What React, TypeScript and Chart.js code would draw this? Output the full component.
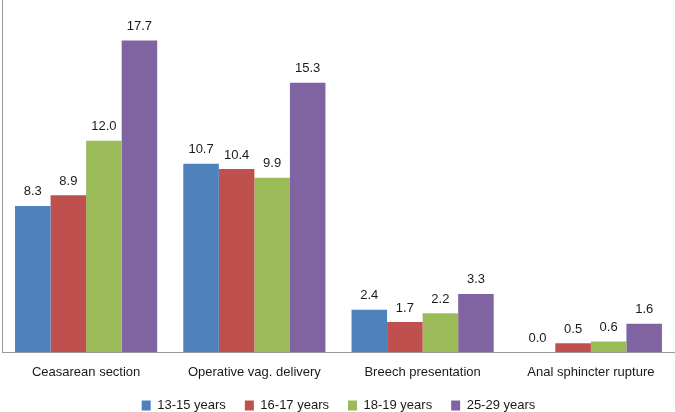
import React, { useEffect, useRef } from "react";
import { Chart, registerables } from "chart.js";

Chart.register(...registerables);

const categories = [
  "Ceasarean section",
  "Operative vag. delivery",
  "Breech presentation",
  "Anal sphincter rupture",
];
const seriesNames = ["13-15 years", "16-17 years", "18-19 years", "25-29 years"];
const age1315 = [8.3, 10.7, 2.4, 0.0];
const age1617 = [8.9, 10.4, 1.7, 0.5];
const age1819 = [12.0, 9.9, 2.2, 0.6];
const age2529 = [17.7, 15.3, 3.3, 1.6];
const colors = ["#4F81BD", "#C0504D", "#9BBB59", "#8064A2"];

const FONT = "'Liberation Sans', Arial, sans-serif";

const valueLabels = {
  id: "valueLabels",
  afterDatasetsDraw(chart: any) {
    const ctx = chart.ctx;
    ctx.save();
    ctx.font = `13px ${FONT}`;
    ctx.fillStyle = "#1a1a1a";
    ctx.textAlign = "center";
    ctx.textBaseline = "middle";
    chart.data.datasets.forEach((ds: any, i: number) => {
      const meta = chart.getDatasetMeta(i);
      meta.data.forEach((bar: any, j: number) => {
        const v = ds.data[j] as number;
        ctx.fillText(v.toFixed(1), bar.x, bar.y - 14);
      });
    });
    ctx.restore();
  },
};

export default function App() {
  const ref = useRef<HTMLCanvasElement>(null);
  useEffect(() => {
    if (!ref.current) return;
    const data = [age1315, age1617, age1819, age2529];
    const chart = new Chart(ref.current, {
      type: "bar",
      data: {
        labels: categories,
        datasets: seriesNames.map((n, i) => ({
          label: n,
          data: data[i],
          backgroundColor: colors[i],
          borderWidth: 0,
          categoryPercentage: 0.845,
          barPercentage: 1,
        })),
      },
      options: {
        animation: false,
        responsive: false,
        devicePixelRatio: 1,
        layout: { padding: { left: 2, right: 0, top: 0, bottom: 0 } },
        plugins: {
          tooltip: { enabled: false },
          legend: {
            position: "bottom",
            labels: {
              boxWidth: 9,
              boxHeight: 10,
              padding: 19,
              color: "#1a1a1a",
              font: { family: FONT, size: 13 },
            },
          },
        },
        scales: {
          x: {
            grid: { display: false, drawTicks: false },
            border: { display: true, color: "#9a9a9a", width: 1 },
            ticks: {
              padding: 13,
              color: "#1a1a1a",
              font: { family: FONT, size: 13 },
              maxRotation: 0,
            },
            afterFit: (scale: any) => {
              scale.height = 28;
            },
          },
          y: {
            min: 0,
            max: 20,
            grid: { display: false, drawTicks: false },
            border: { display: true, color: "#9a9a9a", width: 1 },
            ticks: { display: false },
          },
        },
      },
      plugins: [valueLabels],
    });
    return () => chart.destroy();
  }, []);
  return (
    <div
      style={{
        position: "fixed",
        left: 0,
        top: 0,
        width: 675,
        height: 412,
        overflow: "hidden",
        background: "#fff",
      }}
    >
      <canvas ref={ref} width={675} height={422} style={{ display: "block" }} />
    </div>
  );
}
